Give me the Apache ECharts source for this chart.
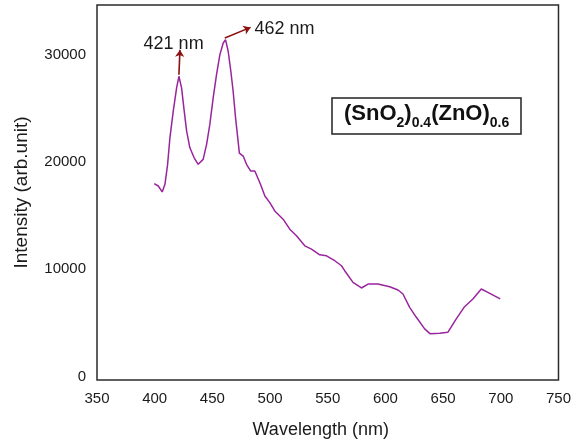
<!DOCTYPE html>
<html><head><meta charset="utf-8">
<script src="https://cdn.jsdelivr.net/npm/echarts@6/dist/echarts.min.js"></script>
<style>html,body{margin:0;padding:0;background:#fff}#c{width:574px;height:444px}</style>
</head><body><div id="c"></div>
<script>
// Photoluminescence spectrum of (SnO2)0.4(ZnO)0.6
const wavelength = [399.6,403.1,406.5,408.9,411.2,413.2,416.1,419,421,423.3,425.6,427.7,430.5,434.2,437.7,442,445,447.8,450.7,453.6,456.5,459.4,461.4,463.7,466,468,470.1,472.3,473.4,476.7,479.6,483.1,486.8,491.7,495.5,499.8,504.1,511.3,517.1,522.9,530.1,535.9,543.1,548.9,556.1,561.9,564.7,571.9,579.2,584.9,593.5,603.7,610.9,615.2,621,626.8,634,638.9,647,654.2,661.4,668.6,675.8,683.1,688.8,699.5];
const intensity = [17960,17740,17190,17900,19760,22230,24710,26880,27960,26880,24710,22850,21300,20370,19760,20220,21620,23480,25950,28120,29980,31060,31370,30290,28430,26570,24090,21920,20810,20530,19760,19140,19140,17900,16810,16190,15420,14650,13720,13100,12170,11860,11330,11240,10780,10310,9850,8760,8240,8610,8610,8360,8050,7680,6440,5510,4430,3970,4020,4120,5360,6500,7220,8150,7830,7220];
const yTickValues = [0, 10000, 20000, 30000];
// peak annotations (data units): arrow start/end and label anchor
const peakNames = ['421 nm', '462 nm'];
const arrowStart = [[421, 28100], [460.8, 31520]];
const arrowEnd = [[421.9, 30420], [483.1, 32515]];
const labelAt = [[416.4, 30980], [512.5, 32380]];

const chart = echarts.init(document.getElementById('c'), null, {renderer: 'canvas'});
const txt = '#1a1a1a';
chart.setOption({
  animation: false,
  backgroundColor: '#fff',
  textStyle: {fontFamily: 'Liberation Sans, Arial, sans-serif'},
  title: {
    text: '{m|(SnO}{s|2}{m|)}{s|0.4}{m|(ZnO)}{s|0.6}',
    left: 332, top: 98,
    borderColor: '#222', borderWidth: 1.5,
    padding: [5, 12, 4, 12],
    textStyle: {
      rich: {
        m: {fontSize: 22, fontWeight: 'bold', color: '#111', lineHeight: 22, verticalAlign: 'top', fontFamily: 'Liberation Sans, Arial'},
        s: {fontSize: 14, fontWeight: 'bold', color: '#111', lineHeight: 14, verticalAlign: 'top', padding: [13, 0, 0, 0], fontFamily: 'Liberation Sans, Arial'}
      }
    }
  },
  grid: {left: 97, right: 15, top: 5, bottom: 64, show: true, borderColor: '#2b2b2b', borderWidth: 1.5, backgroundColor: 'transparent'},
  xAxis: {
    type: 'value', min: 350, max: 750, interval: 50,
    axisLine: {show: false}, axisTick: {show: false}, splitLine: {show: false},
    axisLabel: {fontSize: 15, color: txt, margin: 11},
    name: 'Wavelength (nm)', nameLocation: 'middle', nameGap: 41,
    nameTextStyle: {fontSize: 18, color: txt, padding: [0, 14, 0, 0]}
  },
  yAxis: {
    type: 'value', min: -330, max: 34600,
    axisLine: {show: false}, axisTick: {show: false}, splitLine: {show: false},
    axisLabel: {fontSize: 15, color: txt, margin: 11, customValues: yTickValues, formatter: v => String(v)},
    name: 'Intensity (arb.unit)', nameLocation: 'middle', nameGap: 66,
    nameTextStyle: {fontSize: 19, color: txt}
  },
  series: [{
    type: 'line',
    data: wavelength.map((w, i) => [w, intensity[i]]),
    showSymbol: false,
    lineStyle: {color: '#9a249e', width: 1.5},
    itemStyle: {color: '#9a249e'},
    markLine: {
      silent: true,
      symbol: ['none', 'arrow'],
      symbolSize: 7,
      label: {show: false},
      lineStyle: {color: '#8b1010', width: 1.6, type: 'solid'},
      data: arrowStart.map((s, i) => [{coord: s}, {coord: arrowEnd[i]}])
    },
    markPoint: {
      silent: true,
      symbol: 'circle', symbolSize: 0,
      label: {show: true, position: 'inside', formatter: '{b}', fontSize: 18, color: txt},
      data: labelAt.map((p, i) => ({name: peakNames[i], coord: p}))
    }
  }]
});
</script></body></html>
